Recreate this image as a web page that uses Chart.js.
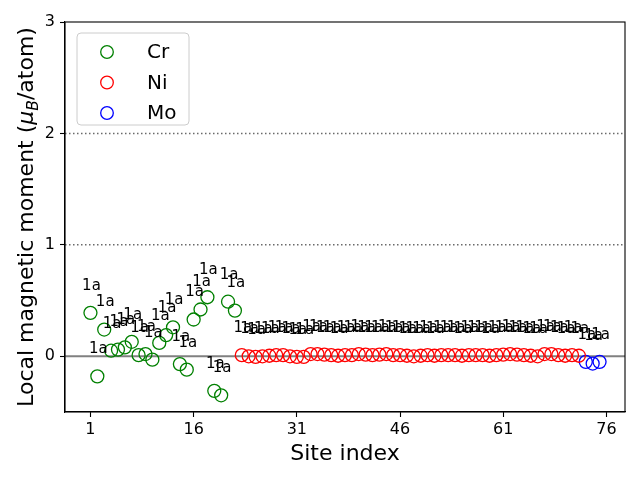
<!DOCTYPE html>
<html><head><meta charset="utf-8">
<script src="https://cdn.jsdelivr.net/npm/chart.js@4"></script>
<style>html,body{margin:0;padding:0;background:#fff}canvas{display:block}</style>
</head><body>
<canvas id="c" width="640" height="480"></canvas>
<script>
// ---- data ----
const crSites = [1,2,3,4,5,6,7,8,9,10,11,12,13,14,15,16,17,18,19,20,21,22];
const crMoments = [0.39,-0.18,0.24,0.05,0.06,0.08,0.13,0.01,0.02,-0.03,0.12,0.19,0.26,-0.07,-0.12,0.33,0.42,0.53,-0.31,-0.35,0.49,0.41];
const niSites = [23,24,25,26,27,28,29,30,31,32,33,34,35,36,37,38,39,40,41,42,43,44,45,46,47,48,49,50,51,52,53,54,55,56,57,58,59,60,61,62,63,64,65,66,67,68,69,70,71,72];
const niMoments = [0.01,0.0,-0.005,0.0,0.005,0.01,0.01,0.0,-0.005,-0.005,0.02,0.02,0.015,0.01,0.005,0.01,0.01,0.02,0.015,0.01,0.015,0.02,0.01,0.01,0.005,0.0,0.005,0.01,0.005,0.01,0.01,0.01,0.005,0.01,0.01,0.01,0.005,0.01,0.015,0.02,0.015,0.01,0.005,0.0,0.02,0.02,0.01,0.005,0.01,0.005];
const moSites = [73,74,75];
const moMoments = [-0.05,-0.065,-0.05];
const siteLabel = '1a';
const seriesNames = ['Cr','Ni','Mo'];
const seriesColors = ['#008000','#ff0000','#0000ff'];
const xTicks = [1,16,31,46,61,76];
const xTickLabels = ['1','16','31','46','61','76'];
const yTicks = [0,1,2,3];
const yTickLabels = ['0','1','2','3'];
const dottedLevels = [1,2];
const zeroLevel = 0;

const FONT = "'DejaVu Sans', sans-serif";

function pts(xs, ys){ return xs.map((x,i)=>({x:x, y:ys[i]})); }
const series = [[crSites,crMoments],[niSites,niMoments],[moSites,moMoments]];

const overlay = {
  id:'overlay',
  beforeDatasetsDraw(chart){
    const {ctx, chartArea:a, scales:{y}} = chart;
    ctx.save();
    ctx.strokeStyle = '#6a6a6a'; ctx.lineWidth = 1.5; ctx.setLineDash([1.5,2.5]);
    dottedLevels.forEach(v=>{
      const py = y.getPixelForValue(v);
      ctx.beginPath(); ctx.moveTo(a.left, py); ctx.lineTo(a.right, py); ctx.stroke();
    });
    ctx.setLineDash([]);
    ctx.strokeStyle = '#808080'; ctx.lineWidth = 2;
    const pz = y.getPixelForValue(zeroLevel);
    ctx.beginPath(); ctx.moveTo(a.left, pz); ctx.lineTo(a.right, pz); ctx.stroke();
    ctx.restore();
  },
  afterDatasetsDraw(chart){
    const {ctx, chartArea:a} = chart;
    ctx.save();
    // point labels
    ctx.fillStyle = '#000'; ctx.font = '15px ' + FONT;
    ctx.textAlign = 'center'; ctx.textBaseline = 'middle';
    chart.data.datasets.forEach((ds,i)=>{
      chart.getDatasetMeta(i).data.forEach(el=>{
        ctx.fillText(siteLabel, el.x + 1, el.y - 27);
      });
    });
    // frame
    ctx.strokeStyle = '#000'; ctx.lineWidth = 1.1;
    ctx.strokeRect(a.left, a.top, a.right - a.left, a.bottom - a.top);
    // legend
    const lx = 77, ly = 33, lw = 112, lh = 92, r = 4;
    ctx.beginPath();
    ctx.moveTo(lx + r, ly); ctx.lineTo(lx + lw - r, ly); ctx.arcTo(lx + lw, ly, lx + lw, ly + r, r);
    ctx.lineTo(lx + lw, ly + lh - r); ctx.arcTo(lx + lw, ly + lh, lx + lw - r, ly + lh, r);
    ctx.lineTo(lx + r, ly + lh); ctx.arcTo(lx, ly + lh, lx, ly + lh - r, r);
    ctx.lineTo(lx, ly + r); ctx.arcTo(lx, ly, lx + r, ly, r); ctx.closePath();
    ctx.fillStyle = 'rgba(255,255,255,0.8)'; ctx.fill();
    ctx.strokeStyle = '#cccccc'; ctx.lineWidth = 1; ctx.stroke();
    ctx.font = '20px ' + FONT; ctx.textAlign = 'left'; ctx.textBaseline = 'middle';
    seriesNames.forEach((n,i)=>{
      const cy = 52 + i * 30.5;
      ctx.beginPath(); ctx.arc(107, cy, 6.3, 0, Math.PI * 2);
      ctx.strokeStyle = seriesColors[i]; ctx.lineWidth = 1.3; ctx.stroke();
      ctx.fillStyle = '#000'; ctx.fillText(n, 147, cy + 1);
    });
    // x title
    ctx.font = '22px ' + FONT; ctx.textAlign = 'center'; ctx.textBaseline = 'middle';
    ctx.fillText('Site index', (a.left + a.right) / 2, 454);
    // y title with mathtext
    ctx.translate(25, (a.top + a.bottom) / 2);
    ctx.rotate(-Math.PI / 2);
    const parts = [
      {t:'Local magnetic moment (', f:'22px ' + FONT, dy:0},
      {t:'\u03bc', f:'italic 22px ' + FONT, dy:0},
      {t:'B', f:'italic 15.5px ' + FONT, dy:5},
      {t:'/atom)', f:'22px ' + FONT, dy:0}
    ];
    let total = 0;
    parts.forEach(p=>{ ctx.font = p.f; p.w = ctx.measureText(p.t).width; total += p.w; });
    let px = -total / 2;
    ctx.textAlign = 'left'; ctx.textBaseline = 'alphabetic';
    parts.forEach(p=>{ ctx.font = p.f; ctx.fillText(p.t, px, 8 + p.dy); px += p.w; });
    ctx.restore();
  }
};

new Chart(document.getElementById('c'), {
  type: 'scatter',
  data: {
    datasets: series.map((s,i)=>({
      label: seriesNames[i],
      data: pts(s[0], s[1]),
      borderColor: seriesColors[i],
      backgroundColor: 'rgba(0,0,0,0)',
      pointRadius: 6.5,
      pointHoverRadius: 6.5,
      pointBorderWidth: 1.3
    }))
  },
  options: {
    responsive: false,
    animation: false,
    events: [],
    layout: {padding: {top: 22, right: 15, left: 0, bottom: 0}},
    plugins: {legend: {display: false}, tooltip: {enabled: false}},
    scales: {
      x: {
        type: 'linear', min: -2.7, max: 78.7,
        afterBuildTicks: s => { s.ticks = xTicks.map(v=>({value:v})); },
        afterFit: s => { s.height = 68; },
        ticks: {autoSkip: false, maxRotation: 0, color: '#000', padding: 3,
          font: {family: FONT, size: 16},
          callback: (v) => xTickLabels[xTicks.indexOf(v)]},
        grid: {display: true, drawOnChartArea: false, drawTicks: true, tickLength: 5, tickColor: '#000', tickWidth: 1.1},
        border: {display: true, color: '#000', width: 1.1}
      },
      y: {
        type: 'linear', min: -0.5, max: 3,
        afterBuildTicks: s => { s.ticks = yTicks.map(v=>({value:v})); },
        afterFit: s => { s.width = 65; },
        ticks: {autoSkip: false, color: '#000', padding: 5,
          font: {family: FONT, size: 16},
          callback: (v) => yTickLabels[yTicks.indexOf(v)]},
        grid: {display: true, drawOnChartArea: false, drawTicks: true, tickLength: 5, tickColor: '#000', tickWidth: 1.1},
        border: {display: true, color: '#000', width: 1.1}
      }
    }
  },
  plugins: [overlay]
});
</script>
</body></html>
